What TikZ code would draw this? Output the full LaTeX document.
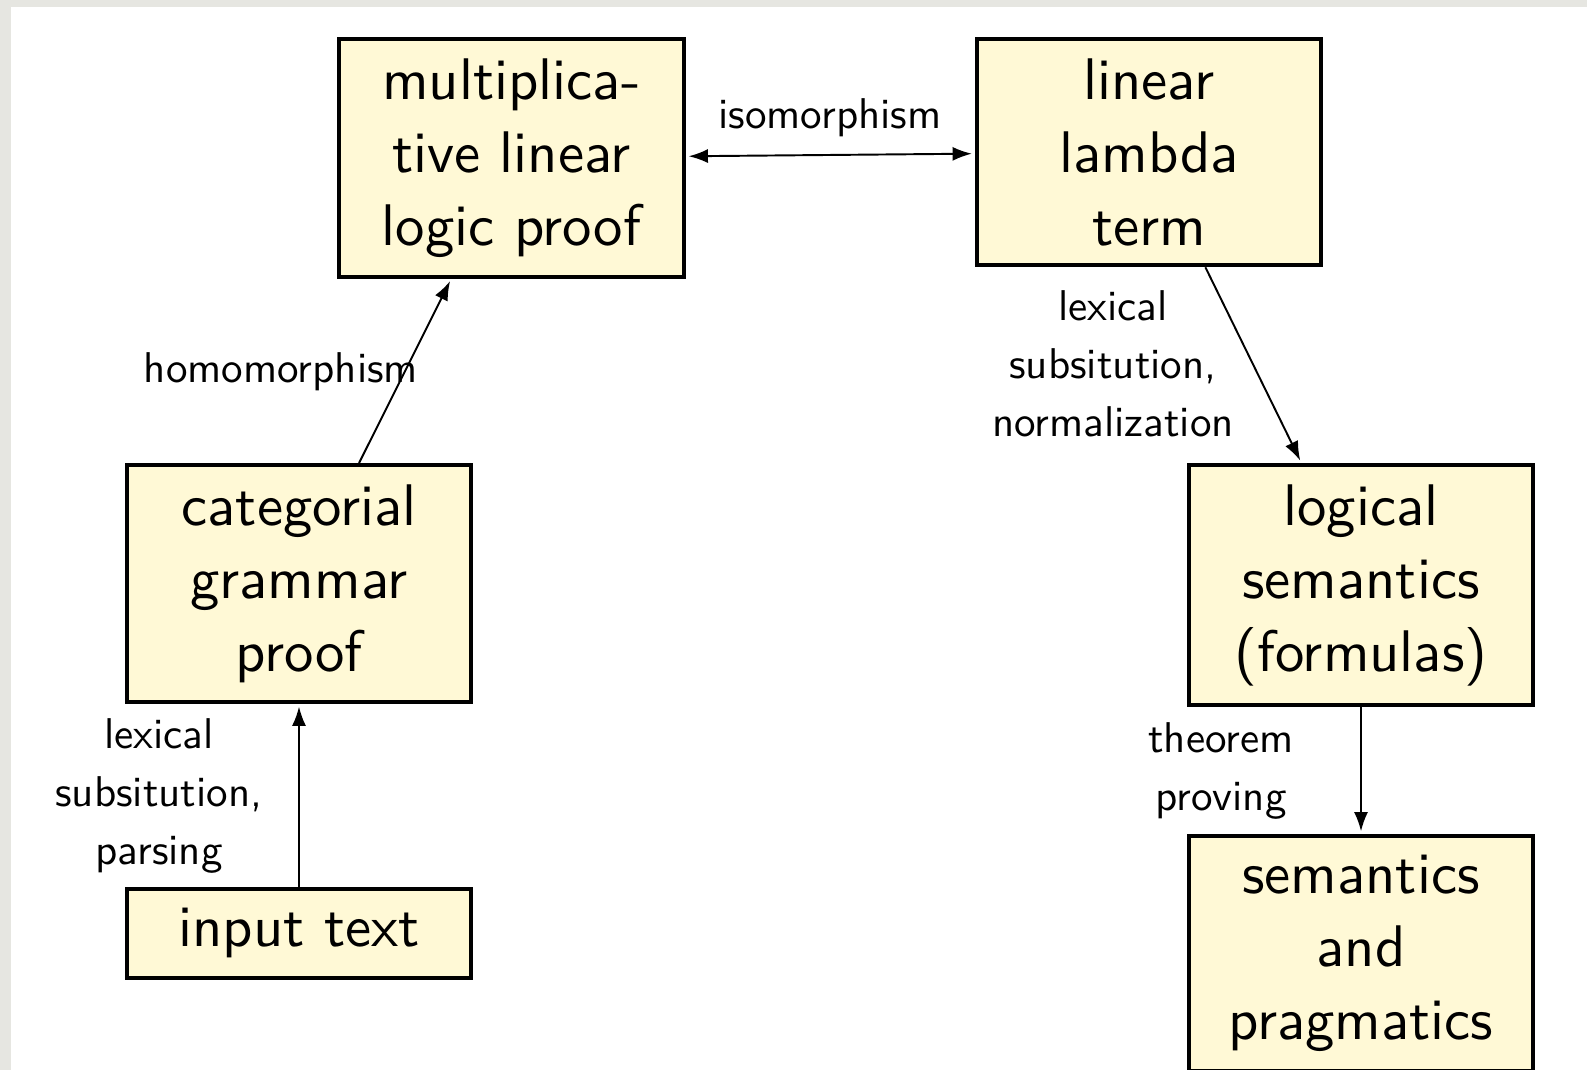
\documentclass[tikz,border=0pt]{standalone}
\usepackage{fontspec}
\setsansfont{lmsans10-regular.otf}
\usetikzlibrary{arrows.meta}
\definecolor{boxfill}{RGB}{255,249,214}
\definecolor{paper}{RGB}{230,230,225}
\begin{document}
\begin{tikzpicture}[x=0.02cm,y=-0.02cm,
 box/.style={draw, line width=2.3pt, fill=boxfill, text width=6.5cm, align=center,
   inner xsep=0.2cm, inner ysep=0.39cm, font=\sffamily\fontsize{33.4}{41.5}\selectfont, anchor=north},
 lbl/.style={align=center, font=\sffamily\fontsize{24.5}{33}\selectfont, inner sep=0pt},
 tip/.tip={Latex[length=11pt,width=8pt]},
 conn/.style={line width=1.1pt, -tip, shorten >=1.5pt},
]
\useasboundingbox (0,0) rectangle (1587,1070);
\clip (0,0) rectangle (1587,1070);
\fill[paper] (0,0) rectangle (1587,1070);
\fill[white] (11,7) rectangle (1587,1070);

\node[box] (A) at (511.5,37) {multiplica-\\tive linear\\logic proof};
\node[box] (B) at (1149,37) {linear\\lambda\\term};
\node[box] (C) at (299,463) {categorial\\grammar\\proof};
\node[box] (D) at (299,887) {input text};
\node[box] (E) at (1361,463) {logical\\semantics\\(formulas)};
\node[box] (F) at (1361,834) {semantics\\and\\pragmatics};

\draw[conn, tip-tip, shorten <=1.5pt] (A) -- (B);
\draw[conn] (C) -- (A);
\draw[conn] (B) -- (E);
\draw[conn] (D) -- (C);
\draw[conn] (E) -- (F);

\node[lbl] (l1) at (830,118) {isomorphism};
\node[lbl] (l2) at (281,372) {homomorphism};
\node[lbl] (l3) at (1113,364) {lexical\\subsitution,\\normalization};
\node[lbl] (l4) at (159,796) {lexical\\subsitution,\\parsing};
\node[lbl] (l5) at (1221,771) {theorem\\proving};
\end{tikzpicture}
\end{document}
